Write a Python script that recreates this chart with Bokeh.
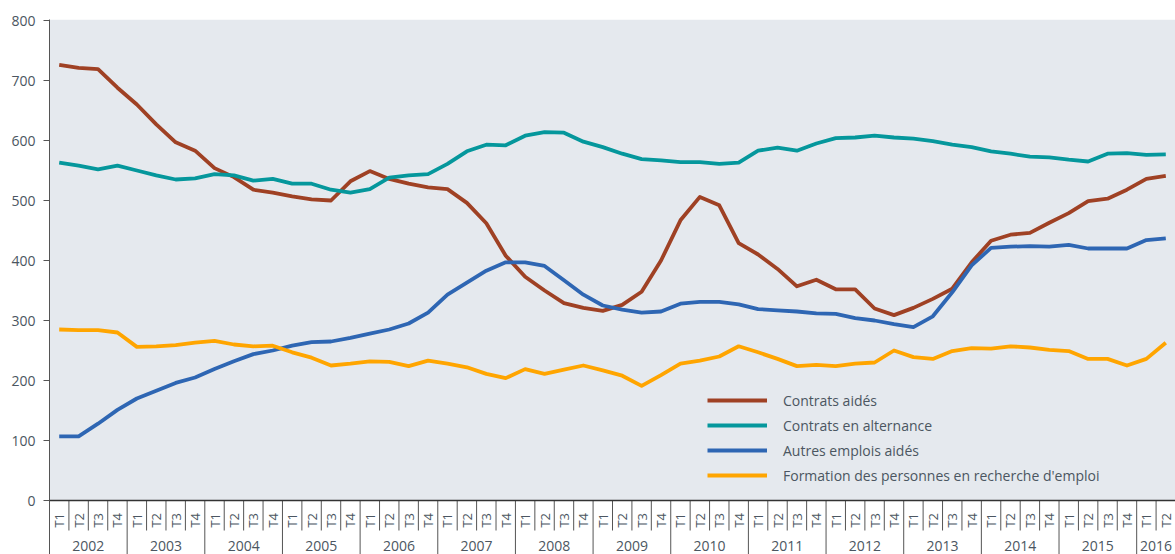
import math
from bokeh.plotting import figure
from bokeh.models import Range1d, FixedTicker, Legend, LegendItem, BoxAnnotation, Span
from bokeh.core.properties import value
from bokeh.embed import file_html
from bokeh.resources import INLINE

years = [str(y) for y in range(2002, 2017)]
quarter_names = ["T1", "T2", "T3", "T4"]
periods = [(y, q) for y in years for q in quarter_names][:58]

contrats_aides = [726, 721, 719, 688, 660, 627, 597, 583, 554, 539, 518, 513, 507, 502, 500, 532, 549, 536,
                  528, 522, 519, 496, 462, 408, 373, 350, 329, 321, 316, 326, 348, 400, 467, 506,
                  492, 429, 410, 386, 357, 368, 352, 352, 320, 309, 321, 336, 353, 397, 433, 443,
                  446, 463, 479, 499, 503, 518, 536, 541]
contrats_alternance = [563, 558, 552, 558, 550, 542, 535, 537, 544, 542, 533, 536, 528, 528, 518, 513, 519, 538,
                       542, 544, 561, 582, 593, 592, 608, 614, 613, 598, 589, 578, 569, 567, 564, 564,
                       561, 563, 583, 588, 583, 595, 604, 605, 608, 605, 603, 599, 593, 589, 582, 578,
                       573, 572, 568, 565, 578, 579, 576, 577]
autres_emplois = [107, 107, 128, 151, 170, 183, 196, 205, 219, 232, 244, 250, 258, 264, 265, 271, 278, 285,
                  295, 313, 343, 363, 383, 397, 397, 391, 367, 343, 325, 318, 313, 315, 328, 331,
                  331, 327, 319, 317, 315, 312, 311, 304, 300, 294, 289, 307, 347, 392, 421, 423,
                  424, 423, 426, 420, 420, 420, 434, 437]
formation = [285, 284, 284, 280, 256, 257, 259, 263, 266, 260, 257, 258, 247, 238, 225, 228, 232, 231,
             224, 233, 228, 222, 211, 204, 219, 211, 218, 225, 217, 208, 191, 209, 228, 233,
             240, 257, 247, 236, 224, 226, 224, 228, 230, 250, 239, 236, 249, 254, 253, 257,
             255, 251, 249, 236, 236, 225, 236, 263]

series_names = ["Contrats aidés", "Contrats en alternance", "Autres emplois aidés",
                "Formation des personnes en recherche d'emploi"]
series_colors = ["#9F4124", "#05979C", "#2E66B3", "#FFA500"]
series_values = [contrats_aides, contrats_alternance, autres_emplois, formation]

TEXT = "#4B5661"
FONT = "Open Sans"

n = len(periods)
xs = list(range(n))

p = figure(width=1175, height=554, output_backend="svg", toolbar_location=None,
           x_range=Range1d(-0.5, n - 0.5), y_range=Range1d(-90, 801.67),
           min_border_left=49, min_border_right=0, min_border_top=19, min_border_bottom=0)
p.outline_line_color = None
p.background_fill_color = "white"
p.border_fill_color = "white"
p.xgrid.visible = False
p.ygrid.visible = False
p.xaxis.visible = False

p.add_layout(BoxAnnotation(bottom=0, fill_color="#E5E9EE", fill_alpha=1, line_color=None, level="underlay"))

ya = p.yaxis[0]
ya.ticker = FixedTicker(ticks=list(range(0, 801, 100)))
ya.major_tick_in = 0
ya.major_tick_out = 6
ya.minor_tick_line_color = None
ya.axis_line_color = "#555555"
ya.major_tick_line_color = "#555555"
ya.major_label_text_font_size = "14px"
ya.major_label_text_color = TEXT
ya.major_label_text_font = FONT
ya.major_label_standoff = 8

renderers = []
for name, col, vals in zip(series_names, series_colors, series_values):
    r = p.line(xs, vals, line_color=col, line_width=3.8, line_join="round")
    renderers.append((name, r))

# x axis line
p.add_layout(Span(location=0, dimension="width", line_color="#333333", line_width=1.5))

# quarter / year separators
qx = [i - 0.5 for i in range(1, n) if periods[i][1] != "T1"]
qx_year = [i - 0.5 for i in range(n) if periods[i][1] == "T1"]
p.segment(x0=qx, y0=[0] * len(qx), x1=qx, y1=[-50] * len(qx), line_color="#555555", line_width=1)
p.segment(x0=qx_year, y0=[0] * len(qx_year), x1=qx_year, y1=[-92] * len(qx_year),
          line_color="#555555", line_width=1)

# quarter labels
p.text(x=xs, y=[-33] * n, text=[q for _, q in periods], angle=math.pi / 2,
       text_align="center", text_baseline="middle", text_font=value(FONT),
       text_font_size="13px", text_color=TEXT)

# year labels
ycent, ylab = [], []
for y in years:
    idx = [i for i, (yy, _) in enumerate(periods) if yy == y]
    ycent.append(sum(idx) / len(idx))
    ylab.append(y)
p.text(x=ycent, y=[-75] * len(ycent), text=ylab, text_align="center", text_baseline="alphabetic",
       text_font=value(FONT), text_font_size="14px", text_color=TEXT)

legend = Legend(items=[LegendItem(label=nm, renderers=[r]) for nm, r in renderers],
                location=(658, 69), padding=0, margin=0, spacing=5,
                glyph_width=60, glyph_height=20, label_height=20, label_standoff=16,
                label_text_font=FONT, label_text_font_size="14px", label_text_color=TEXT,
                background_fill_alpha=0, border_line_color=None)
p.add_layout(legend)

open("out.html", "w").write(file_html(p, INLINE))
